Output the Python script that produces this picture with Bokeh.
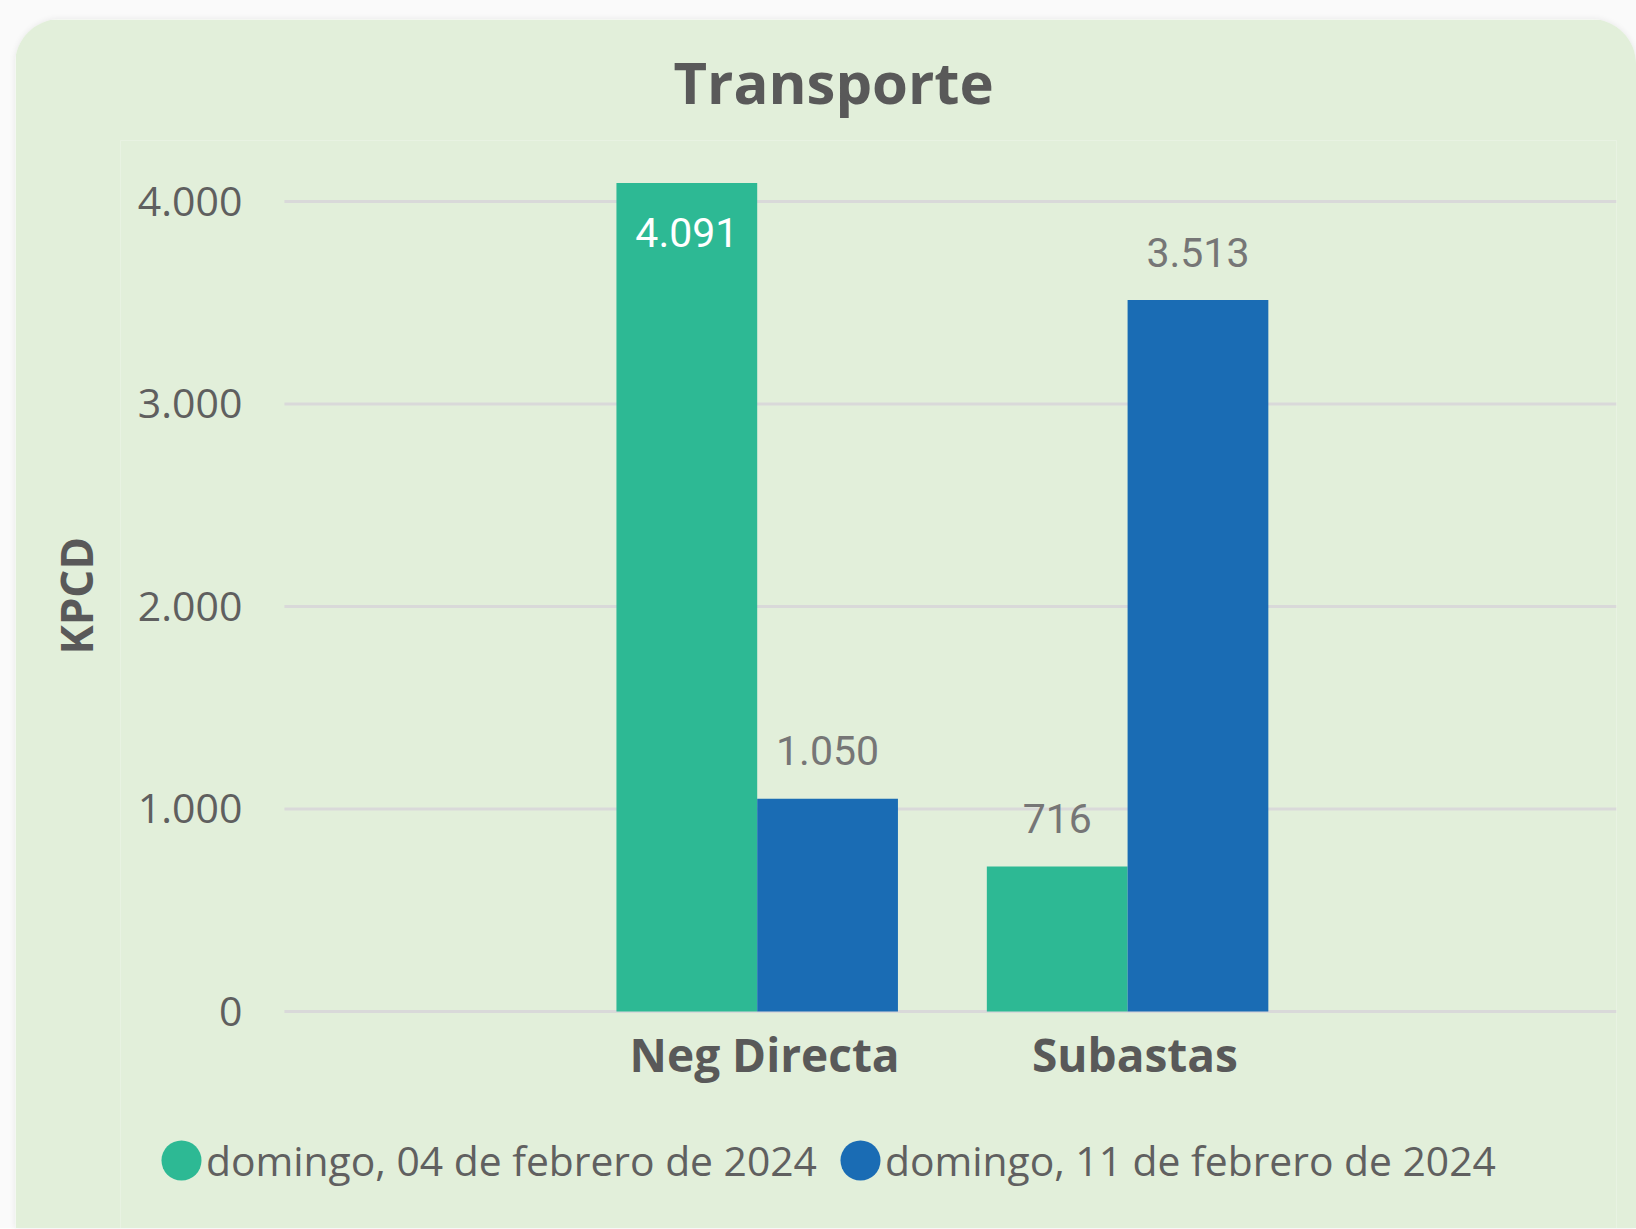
from bokeh.plotting import figure
from bokeh.models import Range1d, FixedTicker, Legend, LegendItem, ColumnDataSource, Title
from bokeh.layouts import column
from bokeh.core.properties import value
from bokeh.transform import dodge
from bokeh.embed import file_html
from bokeh.resources import INLINE

# ---------------- data ----------------
chart_title = "Transporte"
categories = ["Neg Directa", "Subastas"]
series_names = ["domingo, 04 de febrero de 2024", "domingo, 11 de febrero de 2024"]
values_04_feb = [4091, 716]
values_11_feb = [1050, 3513]
y_ticks = [0, 1000, 2000, 3000, 4000]
y_axis_label = "KPCD"

# ---------------- style ----------------
GREEN = "#2DB994"
BLUE = "#1A6CB4"
CARD = "#E2EFDA"
TEXT = "#595959"
LABEL_GRAY = "#767676"
GRID = "#D9D9D9"
FONT = "Open Sans"
NUM_FONT = "Roboto"

x_pos = list(range(1, len(categories) + 1))
X_START, X_END = -0.719, 3.32
AXIS_X = -0.2765          # where the value axis / gridlines start
LABEL_SHIFT = 0.02        # category labels sit slightly right of the bar-group centre


def fmt(v):
    return f"{v:,}".replace(",", ".")


p = figure(
    x_range=Range1d(X_START, X_END), y_range=Range1d(-1072, 4301),
    frame_width=1496, frame_height=1088,
    min_border_left=105, min_border_right=20, min_border_top=0, min_border_bottom=0,
    output_backend="svg", toolbar_location=None,
    background_fill_color=CARD, border_fill_color=CARD, outline_line_color=None,
)

# horizontal gridlines (start at the value axis)
p.segment(x0=[AXIS_X] * len(y_ticks), y0=y_ticks, x1=[X_END] * len(y_ticks), y1=y_ticks,
          line_color=GRID, line_width=3)

bar_w = 0.38
top_limit = y_ticks[-1]
renderers = []
for vals, color, off in [(values_04_feb, GREEN, -bar_w / 2), (values_11_feb, BLUE, bar_w / 2)]:
    inside = [v > top_limit for v in vals]
    src = ColumnDataSource(dict(
        x=x_pos, top=vals, label=[fmt(v) for v in vals],
        lc=["white" if i else LABEL_GRAY for i in inside],
        yo=[49 if i else -48 for i in inside],
    ))
    p.vbar(x=dodge("x", off, range=p.x_range), top="top", bottom=0, width=bar_w, source=src,
           fill_color=color, line_color=None)
    p.text(x=dodge("x", off, range=p.x_range), y="top", text="label", source=src,
           text_color="lc", y_offset="yo", text_align="center", text_baseline="middle",
           text_font=value(NUM_FONT), text_font_size="41px")
    # legend proxy (round marker), kept outside the visible y range
    e = p.ellipse(x=[x_pos[0]], y=[-5000], width=40, height=40,
                  width_units="screen", height_units="screen",
                  fill_color=color, line_color=None)
    renderers.append(e)

legend = Legend(
    items=[LegendItem(label=series_names[i], renderers=[renderers[i]]) for i in range(2)],
    orientation="horizontal", location=(36, 40),
    glyph_width=50, glyph_height=50, label_standoff=0, spacing=18,
    padding=0, margin=0, background_fill_alpha=0, border_line_alpha=0,
    label_text_font=FONT, label_text_font_size="40.8px", label_text_color="#606060",
)
p.add_layout(legend, "center")

# title
p.title.text = chart_title
p.title.align = "left"
p.title.offset = 553
p.title.standoff = 40
p.title.text_font = FONT
p.title.text_font_size = "58px"
p.title.text_font_style = "bold"
p.title.text_color = TEXT

# x axis (sits on the zero line)
label_ticks = [x + LABEL_SHIFT for x in x_pos]
p.xaxis.fixed_location = 0
p.xaxis.ticker = FixedTicker(ticks=label_ticks)
p.xaxis.major_label_overrides = {t: c for t, c in zip(label_ticks, categories)}
p.xaxis.axis_line_color = None
p.xaxis.major_tick_line_color = None
p.xaxis.minor_tick_line_color = None
p.xaxis.major_tick_out = 0
p.xaxis.major_tick_in = 0
p.xaxis.major_label_standoff = 12
p.xaxis.major_label_text_font = FONT
p.xaxis.major_label_text_font_size = "46px"
p.xaxis.major_label_text_font_style = "bold"
p.xaxis.major_label_text_color = TEXT
p.xgrid.visible = False
p.ygrid.visible = False

# y axis (placed where the gridlines begin)
p.yaxis.fixed_location = AXIS_X
p.yaxis.ticker = FixedTicker(ticks=y_ticks)
p.yaxis.major_label_overrides = {t: fmt(t) for t in y_ticks}
p.yaxis.axis_line_color = None
p.yaxis.major_tick_line_color = None
p.yaxis.minor_tick_line_color = None
p.yaxis.major_tick_out = 0
p.yaxis.major_tick_in = 0
p.yaxis.major_label_standoff = 42
p.yaxis.major_label_text_font = FONT
p.yaxis.major_label_text_font_size = "41px"
p.yaxis.major_label_text_color = "#5F5F5F"
p.add_layout(Title(text=y_axis_label, align="left", offset=574, standoff=30,
                   text_font=FONT, text_font_size="44px", text_font_style="bold",
                   text_color=TEXT), "left")

p.margin = (19, 0, 0, 15)
p.styles = {"border-radius": "45px 45px 0 0", "overflow": "hidden",
            "box-shadow": "0 0 6px rgba(0,0,0,0.08)"}

layout = column(p, width=1636, styles={"background-color": "#FAFAFA"})

open("out.html", "w").write(file_html(layout, INLINE))
